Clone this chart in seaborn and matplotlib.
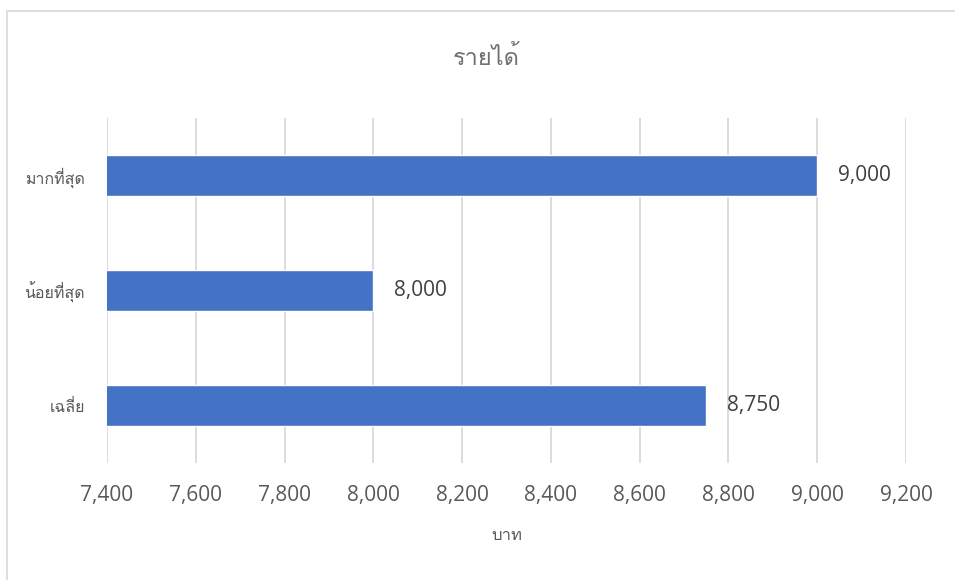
import matplotlib
matplotlib.use("Agg")
import matplotlib.pyplot as plt
import seaborn as sns
import pandas as pd
from matplotlib import font_manager
from matplotlib.ft2font import FT2Font
from matplotlib.patches import Rectangle
from matplotlib.ticker import FuncFormatter, MultipleLocator

categories = ["มากที่สุด", "น้อยที่สุด", "เฉลี่ย"]
values = [9000, 8000, 8750]
title = "รายได้"
xlabel = "บาท"


def thai_families():
    # installed families that carry Thai glyphs
    found = []
    for f in font_manager.fontManager.ttflist:
        try:
            cmap = FT2Font(f.fname).get_charmap()
        except Exception:
            continue
        if 0x0E23 in cmap and 0x0E49 in cmap and f.name not in found:
            found.append(f.name)
    return found


sns.set_theme(style="white")
thai = thai_families()
plt.rcParams["font.family"] = ["Open Sans"] + thai + ["DejaVu Sans"]

df = pd.DataFrame({"cat": categories, "val": values})
gray = "#595959"

fig = plt.figure(figsize=(9.55, 5.8), dpi=100)
ax = fig.add_axes([107 / 955, 1 - 463 / 580, (906 - 107) / 955, (463 - 118) / 580])

sns.barplot(data=df, x="val", y="cat", color="#4472C4", saturation=1,
            width=0.357, ax=ax, zorder=3)

ax.set_xlim(7400, 9200)
ax.xaxis.set_major_locator(MultipleLocator(200))
ax.xaxis.set_major_formatter(FuncFormatter(lambda v, p: f"{v:,.0f}"))
ax.grid(axis="x", color="#D9D9D9", linewidth=1.3, zorder=0)
ax.grid(axis="y", visible=False)
for s in ax.spines.values():
    s.set_visible(False)
ax.tick_params(axis="x", length=0, labelsize=15, colors=gray, pad=16)
ax.tick_params(axis="y", length=0, labelsize=11.5, colors=gray, pad=16)
for lab in ax.get_yticklabels():
    lab.set_fontweight("light")

for p, v in zip(ax.patches, values):
    ax.annotate(f"{v:,.0f}", (p.get_width(), p.get_y() + p.get_height() / 2),
                xytext=(15, 0), textcoords="offset points",
                va="center", ha="left", fontsize=15, color="#404040")

ax.set_xlabel(xlabel, fontsize=12, color=gray, labelpad=16, fontweight="light")
ax.set_ylabel("")
fig.text(0.5 + 9 / 955, 1 - 59 / 580, title, ha="center", va="center",
         fontsize=17, color="#707070", fontweight="light")

# chart area border, cut off at right and bottom like the screenshot
fig.patches.append(Rectangle((7 / 955, -0.1), 1.2, 1.1 - 11 / 580,
                             transform=fig.transFigure, fill=False,
                             edgecolor="#D9D9D9", linewidth=1.2))

fig.savefig("out.png", dpi=100)
